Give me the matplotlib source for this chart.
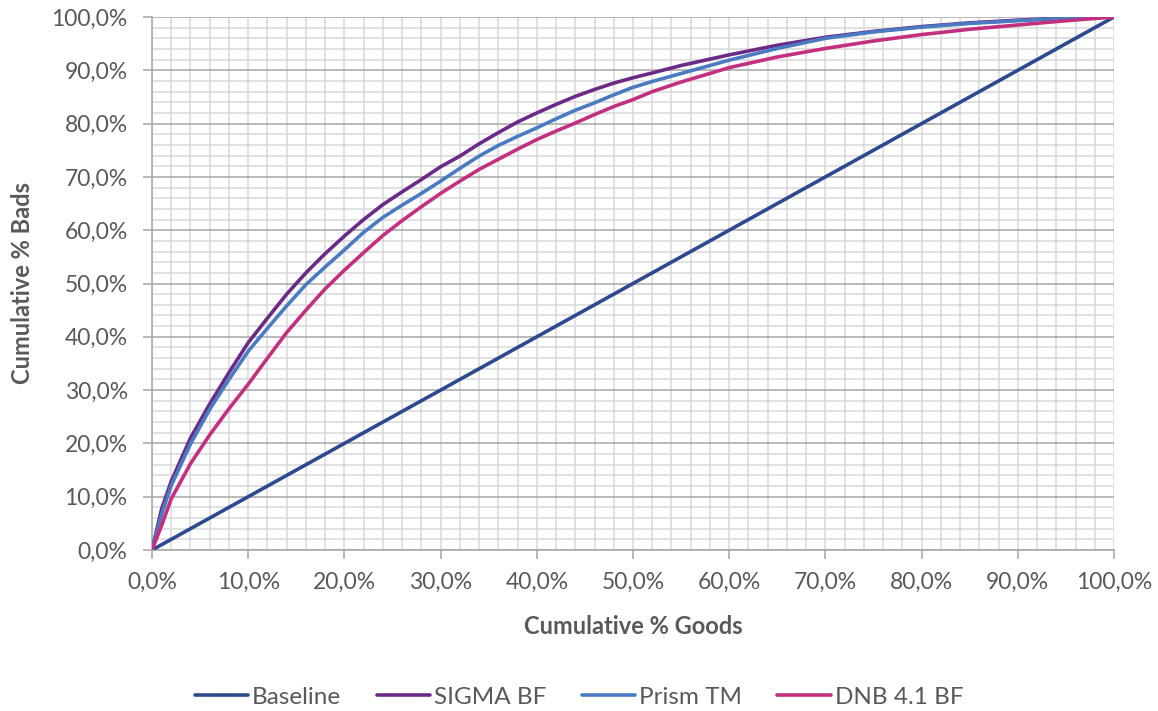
import matplotlib
matplotlib.use("Agg")
import matplotlib.pyplot as plt
from matplotlib.ticker import MultipleLocator, FuncFormatter

# Data (cumulative % goods -> cumulative % bads)
x_pts = [0, 1, 2, 4, 6, 8, 10, 12, 14, 16, 18, 20, 22, 24, 26, 28, 30, 32, 34, 36, 38, 40,
         42, 44, 46, 48, 50, 52, 55, 60, 65, 70, 75, 80, 85, 90, 95, 100]
baseline = list(x_pts)
sigma_bf = [0, 7.7, 12.9, 21.0, 27.4, 33.3, 38.9, 43.5, 48.0, 52.0, 55.6, 58.9, 62.0, 64.8,
            67.2, 69.5, 71.9, 73.9, 76.2, 78.3, 80.3, 82.0, 83.6, 85.1, 86.4, 87.6, 88.6, 89.5,
            90.9, 92.9, 94.7, 96.2, 97.3, 98.2, 98.9, 99.4, 99.8, 100]
prism_tm = [0, 6.7, 12.1, 19.9, 26.4, 32.0, 37.3, 41.6, 45.8, 49.8, 53.1, 56.3, 59.6, 62.4,
            64.7, 66.9, 69.2, 71.6, 73.9, 75.9, 77.6, 79.2, 80.9, 82.5, 83.9, 85.4, 86.8, 87.9,
            89.4, 91.9, 94.1, 96.0, 97.2, 98.1, 98.8, 99.3, 99.8, 100]
dnb_bf = [0, 4.6, 9.6, 16.2, 21.6, 26.5, 31.1, 36.0, 40.8, 45.0, 49.0, 52.5, 55.8, 59.0,
          61.8, 64.4, 66.9, 69.2, 71.4, 73.3, 75.2, 77.0, 78.6, 80.1, 81.7, 83.2, 84.5, 86.0,
          87.8, 90.5, 92.5, 94.1, 95.5, 96.7, 97.7, 98.5, 99.3, 100]

series_names = ["Baseline", "SIGMA BF", "Prism TM", "DNB 4.1 BF"]
colors = ["#2E4A8E", "#6A2A86", "#4A7BC2", "#C2307F"]

plt.rcParams['font.family'] = ['Lato', 'DejaVu Sans']
text_color = "#595959"

fig = plt.figure(figsize=(11.58, 7.11), dpi=100)
ax = fig.add_axes([152/1158, 1-550/711, (1114-152)/1158, (550-17)/711])

for name, ys, c in zip(series_names, [baseline, sigma_bf, prism_tm, dnb_bf], colors):
    ax.plot(x_pts, ys, color=c, lw=2.6, label=name, solid_capstyle='round',
            solid_joinstyle='round', zorder=3)

ax.set_xlim(0, 100)
ax.set_ylim(0, 100)
ax.xaxis.set_major_locator(MultipleLocator(10))
ax.yaxis.set_major_locator(MultipleLocator(10))
ax.xaxis.set_minor_locator(MultipleLocator(2))
ax.yaxis.set_minor_locator(MultipleLocator(2))
fmt = FuncFormatter(lambda v, p: f"{v:.1f}%".replace(".", ","))
ax.xaxis.set_major_formatter(fmt)
ax.yaxis.set_major_formatter(fmt)

ax.grid(which='minor', axis='both', color='#D9D9D9', lw=1.1, zorder=0)
ax.grid(which='major', axis='x', color='#D9D9D9', lw=1.1, zorder=0)
ax.grid(which='major', axis='y', color='#A6A6A6', lw=1.1, zorder=0)
ax.set_axisbelow(True)

for s in ['top', 'right']:
    ax.spines[s].set_visible(False)
for s in ['left', 'bottom']:
    ax.spines[s].set_color('#A6A6A6')
    ax.spines[s].set_linewidth(1.1)

ax.tick_params(which='major', length=6.5, width=1.1, color='#A6A6A6', labelsize=16.5,
               labelcolor=text_color)
ax.tick_params(which='minor', length=0)
ax.tick_params(axis='y', pad=11)
ax.tick_params(axis='x', pad=9)

fig.text(633/1158, 1-627/711, "Cumulative % Goods", fontsize=17, fontweight='bold',
         color=text_color, ha='center', va='center')
fig.text(23/1158, 1-283/711, "Cumulative % Bads", fontsize=17, fontweight='bold',
         color=text_color, ha='center', va='center', rotation=90)

leg = fig.legend(loc='center', bbox_to_anchor=(0.5, 1-697/711), ncol=4, frameon=False,
                 fontsize=17.5, handlelength=2.2, columnspacing=1.45, handletextpad=0.16)
for t in leg.get_texts():
    t.set_color(text_color)

fig.savefig("out.png", dpi=100)
